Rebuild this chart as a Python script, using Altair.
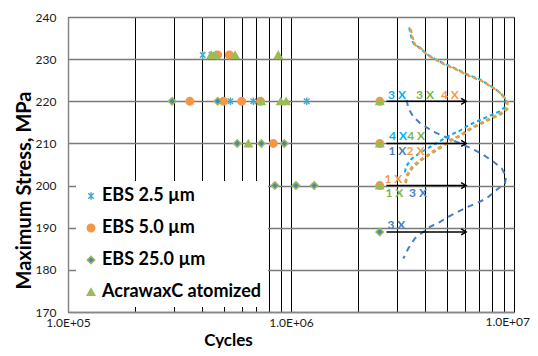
import altair as alt
import pandas as pd

series_names = ["EBS 2.5 µm", "EBS 5.0 µm", "EBS 25.0 µm", "AcrawaxC atomized"]
series_shapes = [
    "M-0.75,-0.75L0.75,0.75M-0.75,0.75L0.75,-0.75M0,-1L0,1",
    "circle",
    "diamond",
    "triangle-up",
]
series_fill = ["#4BACC6", "#F79646", "#4F81BD", "#9BBB59"]
series_stroke = ["#4BACC6", "#F79646", "#9BBB59", "#9BBB59"]

# EBS 2.5 um
ebs25_cycles = [402000, 440000, 535000, 678000, 1176000]
ebs25_stress = [231, 231, 220, 220, 220]
# EBS 5.0 um
ebs50_cycles = [469000, 529000, 352000, 498000, 601000, 730000, 2500000, 833000, 2500000, 2500000]
ebs50_stress = [231, 231, 220, 220, 220, 220, 220, 210, 210, 200]
# EBS 25.0 um
ebs250_cycles = [293000, 469000, 574000, 736000, 933000, 847000, 1053000, 1270000, 2500000]
ebs250_stress = [220, 220, 210, 210, 210, 200, 200, 200, 189]
# AcrawaxC atomized
acra_cycles = [438000, 458000, 561000, 877000, 735000, 899000, 951000, 2500000, 644000, 2500000, 2500000]
acra_stress = [231, 231, 231, 231, 220, 220, 220, 220, 210, 210, 200]

# run-out arrows
arrow_stress = [220, 210, 200, 189]
arrow_start = 2680000
arrow_end = 6100000

# annotation labels
ann_text = ["3 X", "3 X", "4 X", "4 X", "4 X", "1 X", "2 X", "1 X", "1 X", "3 X", "3 X"]
ann_cycles = [2990000, 3990000, 5160000, 3020000, 3640000, 3000000, 3620000, 2880000, 2910000, 3710000, 2970000]
ann_stress = [221.5, 221.5, 221.5, 211.8, 211.8, 208.2, 208.2, 201.5, 198.3, 198.3, 190.6]
ann_color = ["#00B0F0", "#77B843", "#F79646", "#00B0F0", "#77B843", "#4A7EC4", "#F79646",
             "#F79646", "#77B843", "#4A7EC4", "#4A7EC4"]

# sketched distribution curves
cyan_curve_cycles = [3390000, 3420000, 3500000, 3580000, 3780000, 4020000, 4380000, 4740000, 5150000,
                     5560000, 6030000, 6500000, 7040000, 7600000, 8220000, 8800000, 9180000, 9100000,
                     8600000, 7800000, 7000000, 6300000, 5700000, 5100000, 4600000, 4150000, 3750000,
                     3450000, 3280000, 3220000]
cyan_curve_stress = [237.5, 236.3, 234.3, 233.3, 232.8, 231.3, 230.2, 229.2, 228.4, 227.6, 226.6, 225.9,
                     225.2, 224.1, 223.0, 221.7, 220.2, 218.6, 217.6, 216.6, 215.5, 214.4, 213.0, 211.8,
                     210.4, 209.0, 207.6, 206.2, 204.5, 202.5]
orange_curve_cycles = [3420000, 3450000, 3540000, 3620000, 3820000, 4060000, 4420000, 4790000, 5200000,
                       5620000, 6090000, 6570000, 7110000, 7670000, 8300000, 8890000, 9270000, 9270000,
                       8650000, 7810000, 7040000, 6350000, 5730000, 5160000, 4660000, 4200000, 3790000,
                       3480000, 3300000, 3240000]
orange_curve_stress = [237.3, 236.1, 234.1, 233.1, 232.6, 231.1, 230.0, 229.0, 228.2, 227.4, 226.4, 225.7,
                       225.0, 223.9, 222.8, 221.5, 220.0, 218.3, 217.1, 216.0, 214.8, 213.6, 212.0, 210.8,
                       209.2, 207.7, 206.1, 204.5, 202.5, 200.5]
green_curve_cycles = [3450000, 3480000, 3570000, 3660000, 3860000, 4100000, 4460000, 4840000, 5250000,
                      5680000, 6150000, 6640000, 7180000, 7750000, 8380000, 8980000, 9360000, 9360000,
                      8740000, 7890000, 7110000, 6410000, 5790000, 5210000, 4710000, 4240000, 3830000,
                      3520000, 3330000, 3270000]
green_curve_stress = [237.1, 235.9, 233.9, 232.9, 232.4, 230.9, 229.8, 228.8, 228.0, 227.2, 226.2, 225.5,
                      224.8, 223.7, 222.6, 221.3, 219.8, 218.1, 216.9, 215.8, 214.6, 213.4, 211.8, 210.6,
                      209.0, 207.5, 205.9, 204.3, 202.3, 200.3]
blue_curve_cycles = [3300000, 3360000, 3540000, 3790000, 4350000, 4990000, 5730000, 6460000, 7280000,
                     8070000, 8810000, 9210000, 9110000, 8360000, 7550000, 6800000, 6240000, 5620000,
                     5070000, 4660000, 4200000, 3920000, 3600000, 3360000, 3190000]
blue_curve_stress = [220.3, 218.3, 216.3, 214.8, 212.8, 211.4, 210.0, 208.8, 207.3, 205.7, 204.1, 202.1,
                     200.5, 199.0, 197.0, 195.8, 195.0, 193.8, 192.6, 191.4, 190.2, 189.0, 187.5, 185.1,
                     182.7]

# axis tick values
x_grid_values = [100000, 200000, 300000, 400000, 500000, 600000, 700000, 800000, 900000,
                 1000000, 2000000, 3000000, 4000000, 5000000, 6000000, 7000000, 8000000, 9000000,
                 10000000]
x_label_values = [100000, 1000000]
x_label_text = ["1.0E+05", "1.0E+06"]
x_end_label_value = [10000000]
x_end_label_text = ["1.0E+07"]
y_tick_values = [170, 180, 190, 200, 210, 220, 230, 240]

# ---------- tables ----------
rows = []
for name, cs, ss in [(series_names[0], ebs25_cycles, ebs25_stress),
                     (series_names[1], ebs50_cycles, ebs50_stress),
                     (series_names[2], ebs250_cycles, ebs250_stress),
                     (series_names[3], acra_cycles, acra_stress)]:
    for c, s in zip(cs, ss):
        rows.append({"series": name, "cycles": c, "stress": s, "k": series_names.index(name)})
pts_df = pd.DataFrame(rows)

curve_rows = []
for name, col, cs, ss in [("cyan", "#00B0F0", cyan_curve_cycles, cyan_curve_stress),
                          ("green", "#9BBB59", green_curve_cycles, green_curve_stress),
                          ("orange", "#F79646", orange_curve_cycles, orange_curve_stress)]:
    for i, (c, s) in enumerate(zip(cs, ss)):
        curve_rows.append({"name": name, "col": col, "cycles": c, "stress": s, "idx": i})
curve_df = pd.DataFrame(curve_rows)
blue_df = pd.DataFrame({"cycles": blue_curve_cycles, "stress": blue_curve_stress,
                        "idx": list(range(len(blue_curve_cycles)))})

arrow_df = pd.DataFrame({"stress": arrow_stress,
                         "cycles": [arrow_start] * len(arrow_stress),
                         "cycles_end": [arrow_end] * len(arrow_stress),
                         "tip": [arrow_end] * len(arrow_stress)})
ann_df = pd.DataFrame({"text": ann_text, "cycles": ann_cycles, "stress": ann_stress, "col": ann_color})
end_label_df = pd.DataFrame({"cycles": x_end_label_value, "text": x_end_label_text})

label_expr = " : ".join(
    f"datum.value == {v} ? '{t}'" for v, t in zip(x_label_values, x_label_text)
) + " : ''"

x_scale = alt.Scale(type="log", domain=[100000, 10000000], nice=False)
y_scale = alt.Scale(domain=[170, 240], nice=False, zero=False)

x_axis = alt.Axis(values=x_grid_values, labelExpr=label_expr, labelFlush=False, labelOverlap=False,
                  ticks=False, grid=True, gridColor="#000000", gridWidth=1, gridOpacity=1,
                  domainColor="#868686", domainWidth=1.5, labelPadding=5, labelFontSize=12,
                  titleFontSize=17, titleX=160, titleY=28, titleBaseline="middle", title="Cycles")
y_axis = alt.Axis(values=y_tick_values, ticks=False, grid=True, gridColor="#7a7a7a", gridWidth=1.5,
                  gridOpacity=1, domainColor="#868686", domainWidth=1.5, labelPadding=12,
                  labelFontSize=12, titleFontSize=20, titleX=-44, titleY=173, titleBaseline="middle",
                  title="Maximum Stress, MPa")

x_enc = alt.X("cycles:Q", scale=x_scale, axis=x_axis, title="Cycles")
y_enc = alt.Y("stress:Q", scale=y_scale, axis=y_axis, title="Maximum Stress, MPa")

points = alt.Chart(pts_df).mark_point(size=55, strokeWidth=1.5, opacity=1, fillOpacity=1).encode(
    x=x_enc, y=y_enc,
    shape=alt.Shape("series:N", scale=alt.Scale(domain=series_names, range=series_shapes), title=None),
    fill=alt.Fill("series:N", scale=alt.Scale(domain=series_names, range=series_fill), title=None),
    stroke=alt.Stroke("series:N", scale=alt.Scale(domain=series_names, range=series_stroke), title=None),
    order=alt.Order("k:Q"),
)

curves = alt.Chart(curve_df).mark_line(strokeDash=[4, 3], strokeWidth=2).encode(
    x=x_enc, y=y_enc,
    color=alt.Color("col:N", scale=None),
    detail="name:N",
    order=alt.Order("idx:Q"),
)
blue_curve = alt.Chart(blue_df).mark_line(strokeDash=[6, 5], strokeWidth=2, color="#4A7EC4").encode(
    x=x_enc, y=y_enc, order=alt.Order("idx:Q"),
)

arrow_lines = alt.Chart(arrow_df).mark_rule(color="#000000", strokeWidth=1.5).encode(
    x=x_enc, x2=alt.X2("cycles_end:Q"), y=y_enc,
)
arrow_heads = alt.Chart(arrow_df).mark_point(
    shape="M-1,-0.6L0,0L-1,0.6", size=100, filled=False, color="#000000", strokeWidth=1.5, opacity=1
).encode(
    x=alt.X("tip:Q", scale=x_scale, axis=x_axis, title="Cycles"), y=y_enc,
)

labels = alt.Chart(ann_df).mark_text(font="Lato", fontSize=12, fontWeight="bold", align="center",
                                     baseline="middle").encode(
    x=x_enc, y=y_enc, text="text:N", color=alt.Color("col:N", scale=None),
)

# last x tick label, kept inside the page edge
end_label = alt.Chart(end_label_df).mark_text(font="Lato", fontSize=12, align="right", baseline="top",
                                              dx=16, color="#1a1a1a").encode(
    x=x_enc, y=alt.value(300), text="text:N",
)

chart = alt.layer(blue_curve, curves, arrow_lines, arrow_heads, points, labels, end_label).properties(
    width=446, height=295,
    padding={"left": 60, "top": 9, "right": 16, "bottom": 36},
    autosize=alt.AutoSizeParams(type="none"),
).configure_view(stroke="#000000", strokeWidth=1).configure_axis(
    labelFont="Lato", labelColor="#1a1a1a", titleFont="Lato", titleFontWeight="bold", titleColor="#000000",
).configure_legend(
    orient="none", legendX=8, legendY=164, fillColor="#ffffff", padding=6,
    labelFont="Lato", labelFontSize=18, labelFontWeight="bold", labelColor="#000000",
    symbolSize=55, symbolStrokeWidth=1.5, rowPadding=14, labelOffset=2, labelLimit=300,
    symbolOffset=0,
)

chart.save("out.html", embed_options={"renderer": "svg", "actions": False})
